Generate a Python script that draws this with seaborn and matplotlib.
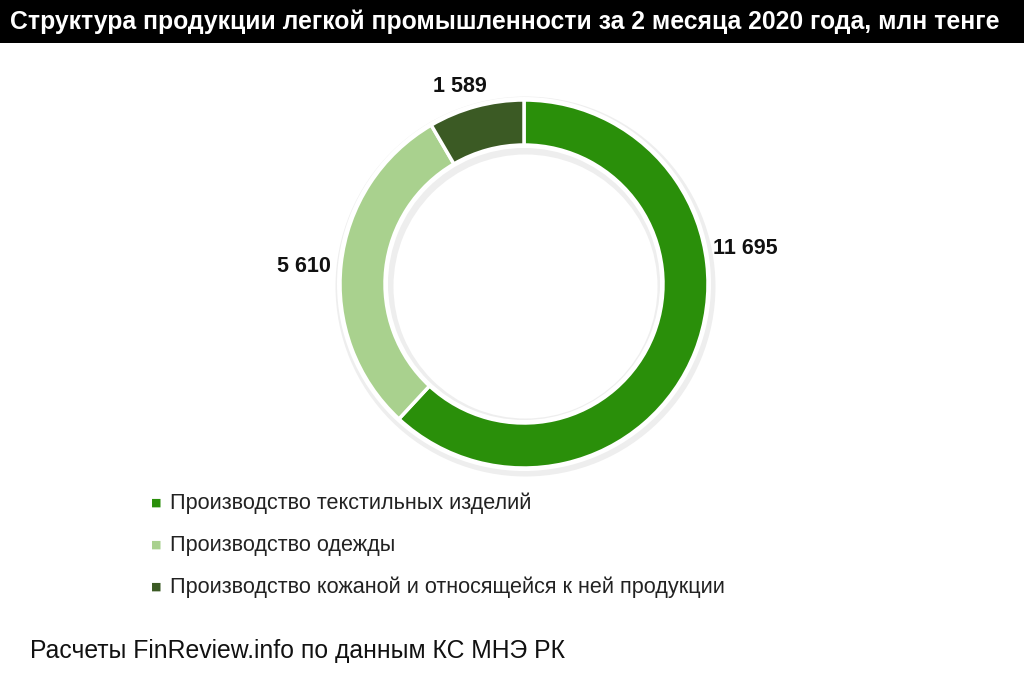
import matplotlib.pyplot as plt
import seaborn as sns
from matplotlib.patches import Rectangle

# Data
categories = ['Производство текстильных изделий',
              'Производство одежды',
              'Производство кожаной и относящейся к ней продукции']
values = [11695, 5610, 1589]
value_labels = ['11 695', '5 610', '1 589']
colors = ['#2a8f0a', '#a9d18e', '#3b5a24']

sns.set_theme(style='white')
plt.rcParams['font.family'] = ['Liberation Sans', 'DejaVu Sans']

fig = plt.figure(figsize=(10.24, 6.81), dpi=100)
fig.patch.set_facecolor('white')

# Title bar
fig.patches.append(Rectangle((0, 1 - 43 / 681), 1, 43 / 681, transform=fig.transFigure,
                             facecolor='black', edgecolor='none', zorder=0))
fig.text(10 / 1024, 1 - 22 / 681, 'Структура продукции легкой промышленности за 2 месяца 2020 года, млн тенге',
         color='white', fontsize=17.8, fontweight='bold', va='center', ha='left')

# Donut axes, units = pixels
cx, cy, half = 524, 284, 300
ax = fig.add_axes([(cx - half) / 1024, (681 - cy - half) / 681, 2 * half / 1024, 2 * half / 681])

# soft shadow + white rim
ax.pie([1], radius=190, colors=['#cfcfcf'], startangle=90,
       wedgeprops=dict(width=58, edgecolor='none', alpha=0.35), center=(1.5, -2.5))
ax.pie([1], radius=187, colors=['white'], startangle=90,
       wedgeprops=dict(width=51, edgecolor='none'))

ax.pie(values, radius=184, colors=colors, startangle=90, counterclock=False,
       wedgeprops=dict(width=45, edgecolor='white', linewidth=2.5))

ax.set_xlim(-half, half)
ax.set_ylim(-half, half)
ax.set_aspect('equal')
ax.axis('off')

label_pos = [(221, 36), (-220, 17), (-64, 197)]
for (x, y), lab in zip(label_pos, value_labels):
    ax.text(x, y, lab, ha='center', va='center', fontsize=15.5, fontweight='bold', color='#111111')

# Legend
leg_y = [503, 545, 587]
for y, cat, col in zip(leg_y, categories, colors):
    fig.text(151 / 1024, 1 - y / 681, '■', color=col, fontsize=8, va='center', ha='left',
             family=['DejaVu Sans'])
    fig.text(170 / 1024, 1 - y / 681, cat, color='#222222', fontsize=15.6, va='center', ha='left')

# Source
fig.text(30 / 1024, 1 - 651 / 681, 'Расчеты FinReview.info по данным КС МНЭ РК',
         color='#111111', fontsize=17.8, va='center', ha='left')

fig.savefig('out.png', dpi=100)
